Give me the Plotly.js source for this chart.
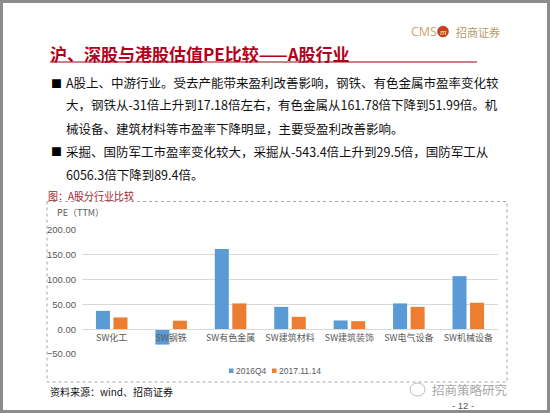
<!DOCTYPE html>
<html>
<head>
<meta charset="utf-8">
<script src="https://cdn.plot.ly/plotly-3.0.1.min.js"></script>
<style>
html,body{margin:0;padding:0;background:#fff;}
#chart{width:550px;height:413px;}
</style>
</head>
<body>
<div id="chart"></div>
<script>
// ---- data ----
const categories = ["SW化工", "SW钢铁", "SW有色金属", "SW建筑材料", "SW建筑装饰", "SW电气设备", "SW机械设备"];
const seriesNames = ["2016Q4", "2017.11.14"];
const seriesColors = ["#5B9BD5", "#ED7D31"];
const pe2016Q4 = [37, -31, 161.78, 45, 17.6, 52, 107];
const pe20171114 = [23.7, 17.18, 51.99, 25, 16.2, 45, 53.3];
const yTicks = [-50, 0, 50, 100, 150, 200];

const pageTitle = "沪、深股与港股估值PE比较——A股行业";
const bulletLines = [
  "A股上、中游行业。受去产能带来盈利改善影响，钢铁、有色金属市盈率变化较",
  "大，钢铁从-31倍上升到17.18倍左右，有色金属从161.78倍下降到51.99倍。机",
  "械设备、建筑材料等市盈率下降明显，主要受盈利改善影响。",
  "采掘、国防军工市盈率变化较大，采掘从-543.4倍上升到29.5倍，国防军工从",
  "6056.3倍下降到89.4倍。"
];
const bulletStarts = [true, false, false, true, false];
const captionText = "图：A股分行业比较";
const yUnitText = "PE（TTM）";
const sourceText = "资料来源：wind、招商证券";
const watermarkText = "招商策略研究";
const pageNumText = "- 12 -";

// ---- layout helpers (pixel -> paper) ----
const W = 550, H = 413;
const mL = 82, mR = 52, mT = 230, mB = 59;
const pw = W - mL - mR, ph = H - mT - mB;
const fx = p => (p - mL) / pw;
const fy = p => (H - mB - p) / ph;

const CJK = '"Noto Sans CJK SC", "Noto Sans", sans-serif';

const traces = [
  {type: "bar", name: seriesNames[0], x: categories, y: pe2016Q4,
   marker: {color: seriesColors[0]}, hoverinfo: "skip", showlegend: false},
  {type: "bar", name: seriesNames[1], x: categories, y: pe20171114,
   marker: {color: seriesColors[1]}, hoverinfo: "skip", showlegend: false}
];

const annotations = [];
function txt(text, x, y, opts) {
  annotations.push(Object.assign({
    text: text, xref: "paper", yref: "paper", x: fx(x), y: fy(y),
    xanchor: "left", yanchor: "middle", showarrow: false, borderpad: 0,
    font: {family: CJK, size: 12, color: "#000"}
  }, opts || {}));
}

// title
txt(pageTitle, 49, 53, {font: {family: CJK, size: 17, color: "#B3001B", weight: 700}});
// logo
txt("CMS", 410, 31.5, {font: {family: '"Open Sans", sans-serif', size: 12.5, color: "#C9A46C"}});
txt("m", 443, 31.5, {xanchor: "center", font: {family: "Liberation Serif, serif", size: 9, color: "#FFE9C0", style: "italic"}});
txt("招商证券", 455, 31.5, {font: {family: CJK, size: 11, color: "#B89868"}});

// bullets
const lineY = [82.7, 104.3, 128, 151, 174];
bulletLines.forEach((t, i) => {
  if (bulletStarts[i]) txt("■", 50, lineY[i], {font: {family: CJK, size: 11, color: "#000"}});
  txt(t, 65, lineY[i], {font: {family: CJK, size: 12.5, color: "#111"}});
});

// caption and chart texts
txt(captionText, 47, 195, {font: {family: CJK, size: 10, color: "#A3262D"}});
txt(yUnitText, 56, 212.5, {font: {family: CJK, size: 9, color: "#595959"}});
txt(sourceText, 49, 391, {font: {family: CJK, size: 10, color: "#111"}});
txt(watermarkText, 431, 389.5, {font: {family: CJK, size: 12.5, color: "#A8A8A8"}});
txt(pageNumText, 463, 405.5, {xanchor: "center", font: {family: '"Liberation Sans", sans-serif', size: 9.5, color: "#595959"}});

const shapes = [
  // page frame
  {type: "rect", xref: "paper", yref: "paper", x0: fx(1.5), x1: fx(548.5), y0: fy(1.5), y1: fy(411.5),
   line: {color: "#8C8C8C", width: 3}},
  // title underline
  {type: "line", xref: "paper", yref: "paper", x0: fx(50), x1: fx(477), y0: fy(62), y1: fy(62),
   line: {color: "#B9575E", width: 1.5}},
  // logo circle
  {type: "circle", xref: "paper", yref: "paper", x0: fx(437.5), x1: fx(448.5), y0: fy(26), y1: fy(37),
   fillcolor: "#C8421E", line: {color: "#A8321A", width: 0.5}},
  // chart dashed box
  {type: "rect", xref: "paper", yref: "paper", x0: fx(47), x1: fx(507), y0: fy(201.5), y1: fy(382),
   line: {color: "#A6A6A6", width: 1, dash: "dot"}},
  // watermark icon
  {type: "circle", xref: "paper", yref: "paper", x0: fx(410), x1: fx(425), y0: fy(383), y1: fy(396),
   line: {color: "#BDBDBD", width: 1}}
];

// manual compact legend (Excel style)
const legendX = [229, 272];
seriesNames.forEach((n, i) => {
  shapes.push({type: "rect", xref: "paper", yref: "paper",
    x0: fx(legendX[i]), x1: fx(legendX[i] + 4.5), y0: fy(368.5), y1: fy(373),
    fillcolor: seriesColors[i], line: {width: 0}});
  txt(n, legendX[i] + 6, 370.8, {font: {family: '"Liberation Sans", sans-serif', size: 8.5, color: "#595959"}});
});

const layout = {
  width: W, height: H,
  margin: {l: mL, r: mR, t: mT, b: mB, pad: 0},
  paper_bgcolor: "#fff", plot_bgcolor: "#fff",
  barmode: "group", bargap: 0.41, bargroupgap: 0.2,
  showlegend: false,
  xaxis: {type: "category", anchor: "free", position: 0.2,
    showline: true, linecolor: "#D9D9D9", linewidth: 1, showgrid: false, ticks: "",
    tickfont: {family: CJK, size: 9, color: "#595959"}, fixedrange: true},
  yaxis: {range: [-50, 200], tickvals: yTicks, tickformat: ".2f",
    showgrid: true, gridcolor: "#D9D9D9", gridwidth: 1, zeroline: false, showline: false,
    ticks: "", ticklabelstandoff: 5,
    tickfont: {family: '"Liberation Sans", sans-serif', size: 9.5, color: "#595959"}, fixedrange: true},
  annotations: annotations,
  shapes: shapes
};

Plotly.newPlot("chart", traces, layout, {displayModeBar: false, staticPlot: true});
</script>
</body>
</html>
